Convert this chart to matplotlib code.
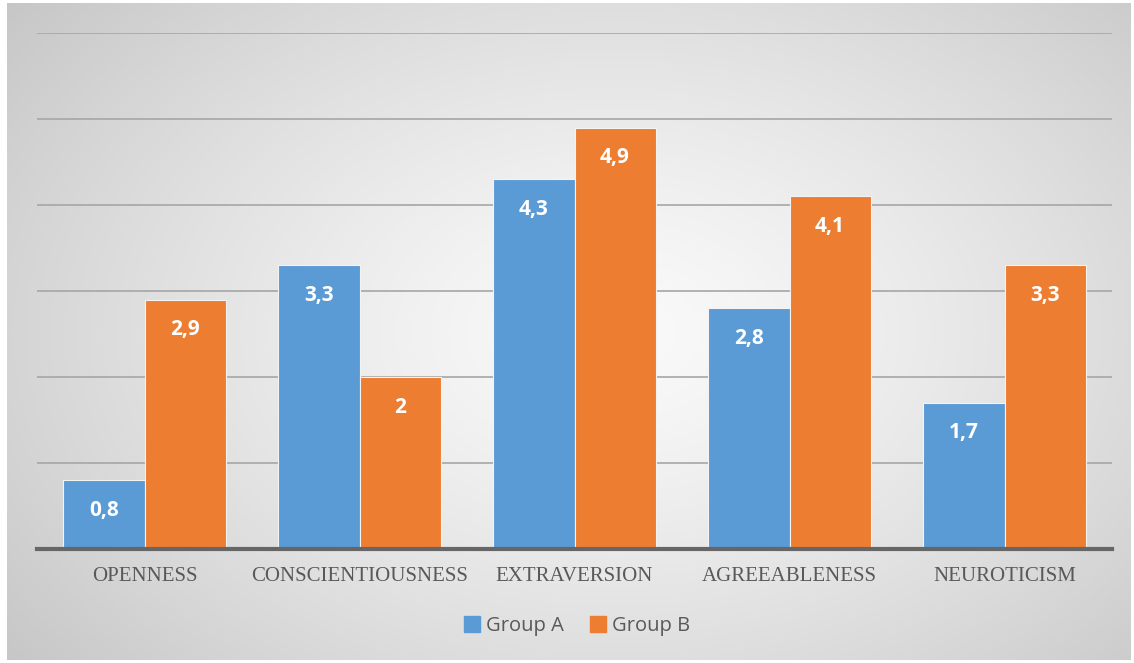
import matplotlib
matplotlib.use('Agg')
import matplotlib.pyplot as plt
import numpy as np
from matplotlib.patches import Rectangle

# ── Data ──────────────────────────────────────────────────────────────────────
TRAITS  = ['OPENNESS', 'CONSCIENTIOUSNESS', 'EXTRAVERSION', 'AGREEABLENESS', 'NEUROTICISM']
GROUP_A = [0.8, 3.3, 4.3, 2.8, 1.7]
GROUP_B = [2.9, 2.0, 4.9, 4.1, 3.3]
SERIES  = ['Group A', 'Group B']
COLORS  = ['#5b9bd5', '#ed7d31']

W, H = 1134, 663
fig = plt.figure(figsize=(W / 100, H / 100), dpi=100)
fig.patch.set_facecolor('white')

# ── Radial gradient background inside the chart frame ─────────────────────────
bg = fig.add_axes([7 / W, 3 / H, (1131 - 7) / W, (660 - 3) / H])
yy, xx = np.mgrid[0:300, 0:500]
cx, cy = 270, 150
r = np.sqrt(((xx - cx) / 330) ** 2 + ((yy - cy) / 230) ** 2)
shade = np.clip(0.98 - 0.19 * r ** 1.3, 0.76, 0.98)
bg.imshow(np.dstack([shade, shade, shade]), aspect='auto', extent=[0, 1, 0, 1],
          interpolation='bilinear')
bg.set_axis_off()

# ── Bar chart ────────────────────────────────────────────────────────────────
left, right, base, top = 37, 1112, 549, 33
ax = fig.add_axes([left / W, (H - base) / H, (right - left) / W, (base - top) / H])
ax.set_facecolor('none')

x = np.arange(len(TRAITS))
width = 0.377
for i, (vals, color) in enumerate(zip([GROUP_A, GROUP_B], COLORS)):
    offs = (i - 0.5) * width
    bars = ax.bar(x + offs, vals, width, color=color, edgecolor='#f3f3f3',
                  linewidth=0.8, zorder=3, label=SERIES[i])
    for b, v in zip(bars, vals):
        txt = f'{v:g}'.replace('.', ',')
        ax.text(b.get_x() + b.get_width() / 2, v - 0.35, txt, ha='center', va='center',
                color='white', fontsize=15, fontweight='bold', family='Open Sans',
                zorder=4)

ax.set_xlim(-0.5, len(TRAITS) - 0.5)
ax.set_ylim(0, 6)
ax.set_yticks(np.arange(1, 7))
ax.yaxis.grid(True, color='#a6a6a6', linewidth=1.2, zorder=1)
ax.tick_params(axis='y', length=0, labelleft=False)
ax.tick_params(axis='x', length=0, pad=13)
ax.set_xticks(x)
ax.set_xticklabels(TRAITS, family='Liberation Serif', fontsize=15, color='#595959')
for s in ['top', 'left', 'right']:
    ax.spines[s].set_visible(False)
ax.spines['bottom'].set_color('#666666')
ax.spines['bottom'].set_linewidth(3)
ax.spines['bottom'].set_zorder(5)

leg = fig.legend(handles=[Rectangle((0, 0), 1, 1, color=c) for c in COLORS], labels=SERIES,
                 loc='center', bbox_to_anchor=(577 / W, (H - 626) / H), ncol=2,
                 frameon=False, handlelength=0.8, handleheight=0.8, handletextpad=0.3,
                 columnspacing=1.3, prop={'family': 'Open Sans', 'size': 14.5})
for t in leg.get_texts():
    t.set_color('#595959')

fig.savefig('out.png', dpi=100)
